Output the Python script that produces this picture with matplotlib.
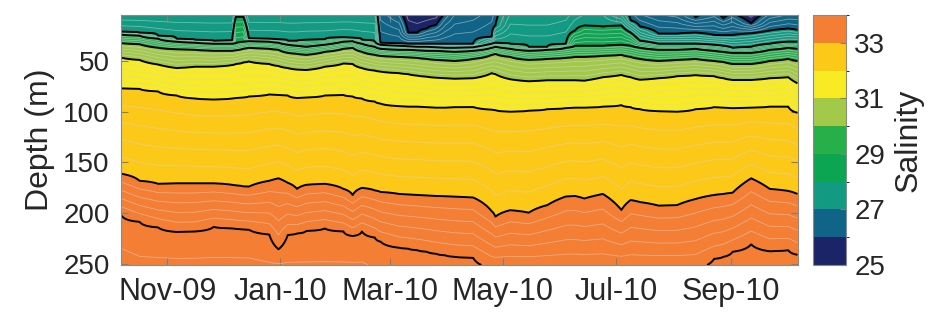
import numpy as np
import matplotlib
matplotlib.use('Agg')
import matplotlib.pyplot as plt
import matplotlib.dates as mdates
from matplotlib.colors import ListedColormap, BoundaryNorm
from matplotlib.cm import ScalarMappable

plt.rcParams['font.family'] = ['Liberation Sans', 'DejaVu Sans']
plt.rcParams['font.size'] = 20

# sampling dates of the profiles
dates = ['2009-10-07', '2009-10-17', '2009-10-27', '2009-11-06', '2009-11-16', '2009-11-26',
         '2009-12-06', '2009-12-08', '2009-12-12', '2009-12-15', '2009-12-26', '2009-12-31',
         '2010-01-05', '2010-01-10', '2010-01-15', '2010-01-25', '2010-02-04', '2010-02-09',
         '2010-02-14', '2010-02-21', '2010-02-24', '2010-03-06', '2010-03-11', '2010-03-16',
         '2010-03-21', '2010-03-26', '2010-03-31', '2010-04-05', '2010-04-15', '2010-04-25',
         '2010-04-27', '2010-05-05', '2010-05-15', '2010-05-25', '2010-06-04', '2010-06-09',
         '2010-06-14', '2010-06-24', '2010-07-04', '2010-07-09', '2010-07-14', '2010-07-24',
         '2010-08-03', '2010-08-13', '2010-08-23', '2010-08-28', '2010-09-02', '2010-09-12',
         '2010-09-22', '2010-10-02', '2010-10-07']

nan = np.nan
# salinity at the top (4 m) and bottom (251 m) of each profile
s_top = [27.4, 27.4, 27.4, 27.4, 27.4, 27.4, 27.4, 27.9, 27.9, 27.4, 27.4, 27.4,
         27.4, 27.4, 27.4, 27.4, 27.4, 27.4, 27.4, 27.4, 26.5, 26.15, 25.7, 25.6,
         25.65, 25.7, 26.05, 26.4, 26.5, 26.7, 26.9, 27.4, 27.4, 27.4, 27.5, 27.7,
         27.8, 27.8, 27.3, 26.9, 26.6, 26.4, 26.3, 25.95, 26.1, 25.9, 26.05, 25.7,
         26.2, 26.4, 26.4]
s_bot = [34.3, 34.25, 34.25, 34.25, 34.25, 34.25, 34.25, 34.25, 34.25, 34.25, 34.22, 34.22,
         34.22, 34.22, 34.22, 34.22, 34.22, 34.22, 34.22, 34.18, 34.15, 34.12, 34.11, 34.1,
         34.09, 34.07, 34.06, 34.05, 34.04, 33.95, 33.95, 33.95, 33.95, 33.95, 33.95, 33.95,
         33.95, 33.95, 33.95, 33.95, 33.95, 33.95, 33.95, 33.95, 34.03, 34.05, 34.08, 34.12,
         34.09, 34.09, 34.07]

# depth (m) of each isohaline at each date, nan where it does not occur
z26 = [nan] * 22 + [22, 22, 18, 14.5] + [nan] * 17 + [7, nan, 8, nan, 13, nan, nan, nan]
z27 = [nan] * 20 + [32, 32.5, 33, 33, 33, 33, 33, 33, 33, 26, 15] + [nan] * 8 + \
      [10, 16, 23, 23, 22, 24.4, 24.5, 24.4, 22.7, 20, 18, 19.5]
z28 = [21, 22, 25, 28, 29, 30, 29.5, 6.5, 6.5, 27.5, 28, 28.5,
       30, 30, 29, 28.5, 26.5, 27, 29, 31, 34, 35, 35.5, 36, 36, 36.5, 37,
       37, 36.5, 33, 32, 33, 36, 36, 33, 20, 15, 16, 15,
       22, 30, 33, 33, 33, 34, 35, 37, 36, 33, 31, 31]
z29 = [24, 25, 28, 31, 32, 33, 33, 32.5, 31, 30.5, 31, 32,
       34, 35, 36, 34, 31, 30.5, 33, 36, 38, 39, 39, 39.5, 40, 40, 40.5,
       41, 40, 37, 36, 38, 40, 39, 37, 35, 35, 35, 34,
       35, 37, 39, 39, 38, 40, 41, 42, 42, 39, 37, 38]
z30 = [32.5, 33.5, 37, 38.5, 39, 40, 40, 39.5, 38, 37, 38, 39,
       42, 43, 44, 41, 38, 37, 41, 44, 45, 46, 46.5, 47, 48, 49, 49.5,
       50, 48, 44, 43, 46, 49, 48, 47, 46, 46, 45, 44,
       46, 48, 50, 49, 48, 50, 51, 53, 53, 50, 48, 50]
z31 = [46.7, 49, 53.5, 57, 55.6, 55.6, 54, 53, 51.5, 50.5, 53, 55,
       57, 58.5, 58.9, 55.6, 52.5, 53, 57, 59.5, 60.5, 62, 63, 64.5, 65.5, 66.5, 67,
       67.5, 67, 62, 63, 68, 70, 69, 69, 69, 69.4, 66, 63.8,
       66, 68.5, 67, 65, 64, 65, 67, 68.7, 68.7, 67, 66, 72]
z32 = [77, 77.5, 80, 84, 87, 88, 87, 86.5, 86, 85, 83, 83.5,
       84, 86.5, 86, 84, 83.5, 85, 87, 90, 92, 94.5, 95, 95, 95.5, 96, 96,
       95.5, 95.3, 98, 98.5, 100, 99, 97.5, 96.5, 96, 96, 95, 93.5,
       95.5, 97.5, 99.5, 100, 97.5, 95.5, 96, 96.5, 96, 95, 95, 101]
z33 = [161, 168, 171, 170.5, 170.5, 170.5, 172, 172.5, 173.5, 173.8, 168, 165.6,
       170, 176, 172, 171, 176, 182, 175, 177.5, 179, 181, 181.5, 182, 182.5, 183, 183.3,
       183.7, 184.5, 198, 203.4, 197, 199.5, 192, 183.5, 183, 185.5, 181, 196.8,
       187, 189, 192.5, 192, 186, 182, 181, 179.8, 165.6, 176, 178, 181]
z34 = [201.7, 208.5, 214, 218.5, 218, 213.5, 215, 215.3, 216, 216.2, 221, 235.5,
       221.4, 220, 217.5, 215, 218, 222.5, 218, 224, 228, 234, 235, 236.5, 238, 240, 241.5,
       243, 244] + [nan] * 15 + [245, 243, 238, 230.6, 237.5, 236.5, 241]

iso = {26: z26, 27: z27, 28: z28, 29: z29, 30: z30, 31: z31, 32: z32, 33: z33, 34: z34}

band_colors = ['#1b2466', '#0f6487', '#129a82', '#0ca652', '#27b04a',
               '#a3c94a', '#f8eb23', '#fdc918', '#f47e34']

# grid the profiles onto a regular depth axis
t = np.array(dates, dtype='datetime64[D]')
tnum = mdates.date2num(t.astype('O'))
zgrid = np.arange(4, 251.5, 0.5)
S = np.zeros((len(zgrid), len(t)))
for j in range(len(t)):
    zk = [4.0]
    sk = [s_top[j]]
    for lev, zs in iso.items():
        if not np.isnan(zs[j]):
            zk.append(zs[j])
            sk.append(lev)
    zk.append(251.0)
    sk.append(s_bot[j])
    order = np.argsort(zk)
    S[:, j] = np.interp(zgrid, np.array(zk)[order], np.array(sk)[order])

fig = plt.figure(figsize=(9.51, 3.2), dpi=100)
ax = fig.add_axes([0.1272, 0.1719, 0.7114, 0.7812])
cax = fig.add_axes([0.8546, 0.1719, 0.035, 0.7812])

fill_levels = [24, 26, 27, 28, 29, 30, 31, 32, 33, 36]
ax.contourf(tnum, zgrid, S, levels=fill_levels, colors=band_colors)
fine = [v for v in np.round(np.arange(25.2, 34.8, 0.2), 1) if abs(v - round(v)) > 0.01]
ax.contour(tnum, zgrid, S, levels=fine, colors='#d4d4d4', linewidths=0.6, alpha=0.55)
ax.contour(tnum, zgrid, S, levels=np.arange(26, 35, 1), colors='k', linewidths=1.4)

ax.set_xlim(mdates.date2num(np.datetime64('2009-10-07').astype('O')),
            mdates.date2num(np.datetime64('2010-10-07').astype('O')))
ax.set_ylim(251, 4.7)
ax.set_yticks([50, 100, 150, 200, 250])
ax.xaxis.set_major_locator(mdates.MonthLocator(bymonth=[1, 3, 5, 7, 9, 11]))
ax.xaxis.set_major_formatter(mdates.DateFormatter('%b-%y'))
ax.set_ylabel('Depth (m)', color='#262626', fontsize=23, labelpad=6)
ax.tick_params(direction='in', top=True, right=True, length=5, width=0.8,
               color='#7f7f7f', labelcolor='#262626')
ax.tick_params(axis='x', pad=9, labelsize=22)
ax.tick_params(axis='y', pad=8)
for sp in ax.spines.values():
    sp.set_color('#8a8a8a')
    sp.set_linewidth(0.8)

sm = ScalarMappable(norm=BoundaryNorm(np.arange(25, 35, 1), 9), cmap=ListedColormap(band_colors))
cb = fig.colorbar(sm, cax=cax, ticks=[25, 27, 29, 31, 33])
cb.set_label('Salinity', color='#262626', fontsize=23, labelpad=6)
cb.ax.tick_params(direction='in', length=4, color='#7f7f7f', labelcolor='#262626', pad=6)
cb.outline.set_edgecolor('#8a8a8a')
cb.outline.set_linewidth(0.8)

fig.savefig('out.png', dpi=100)
